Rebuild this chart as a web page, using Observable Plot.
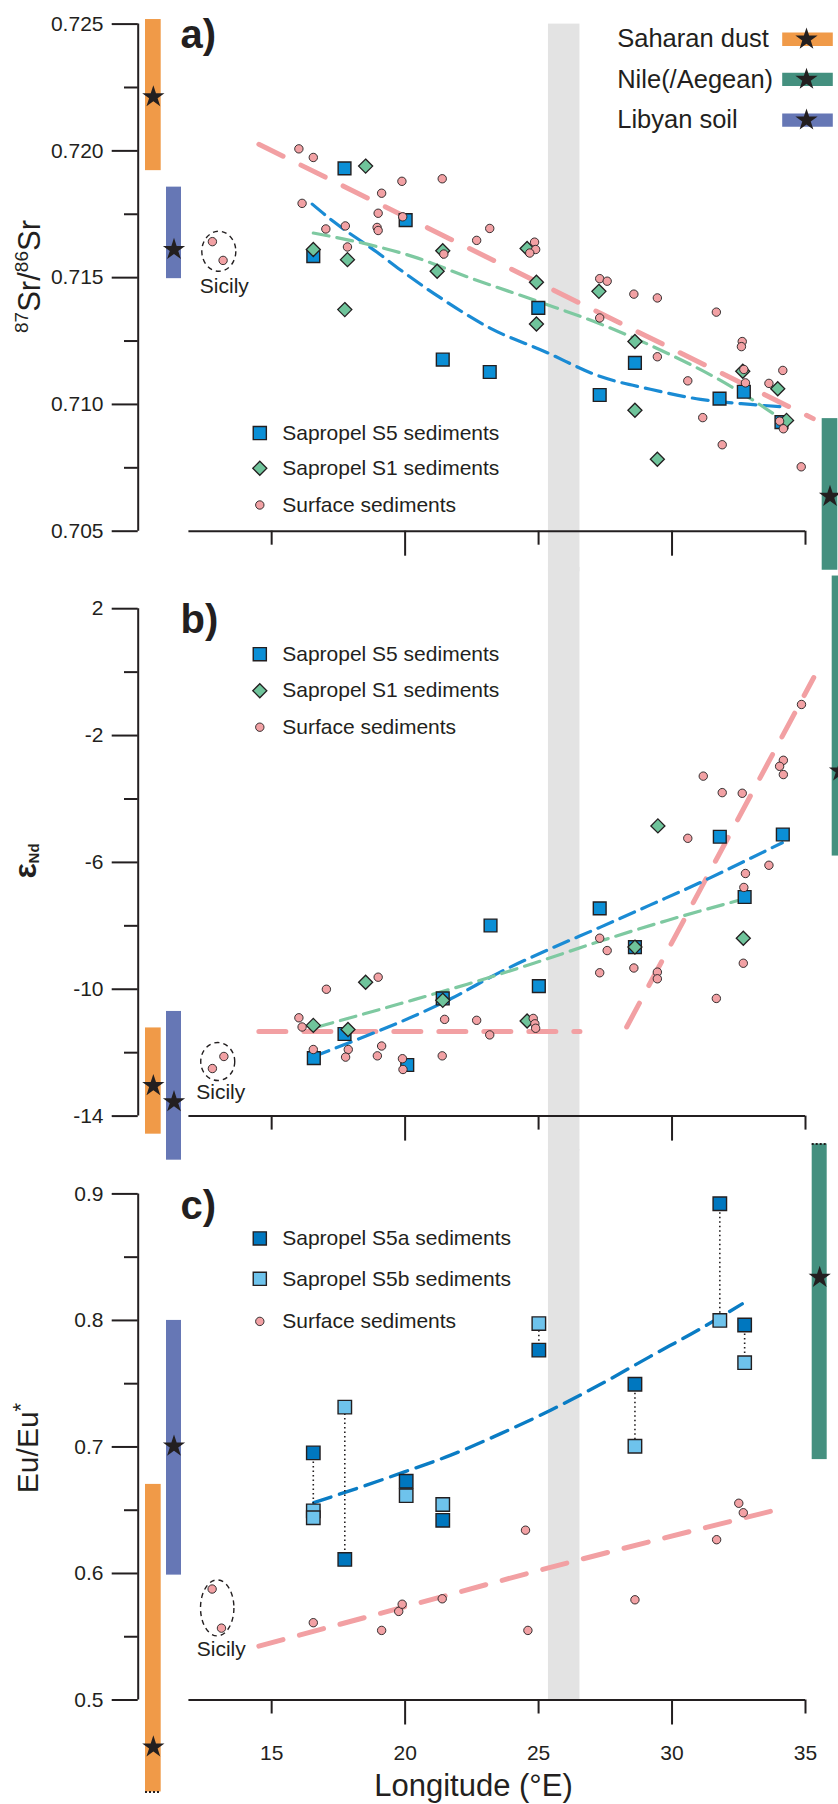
<!DOCTYPE html>
<html><head><meta charset="utf-8">
<script src="https://cdn.jsdelivr.net/npm/d3@7"></script>
<script src="https://cdn.jsdelivr.net/npm/@observablehq/plot@0.6"></script>
<style>
html,body{margin:0;padding:0;background:#fff;}
#chart{width:838px;height:1804px;position:relative;overflow:hidden;background:#fff;}
#chart svg{display:block;overflow:visible;background:transparent;}
</style></head>
<body><div id="chart"></div>
<script>
// ================= DATA =================
const lonTicks = [15, 20, 25, 30, 35];
const lonTicksLong = [20, 30];
const lonTicksShort = [15, 25, 35];
const bandLon = [[25.37, 26.55]];
const sourceNames = ["Saharan dust", "Nile(/Aegean)", "Libyan soil"];

// panel a : 87Sr/86Sr
const srTicks = [0.705, 0.710, 0.715, 0.720, 0.725];
const srMinorTicks = [0.7075, 0.7125, 0.7175, 0.7225];
const srSourceRange = [[0.71922, 0.72518], [0.70346, 0.70944], [0.71496, 0.71857]];
const srSourceStar = [0.72213, 0.70637, 0.71611];
const srS5 = [[16.56,0.71585],[17.73,0.71931],[20.02,0.71727],[21.41,0.71177],[23.17,0.71128],[24.99,0.71381],[27.29,0.71037],[28.61,0.71164],[31.78,0.71023],[32.69,0.7105],[34.10,0.7093]];
const srS1 = [[16.56,0.71611],[18.52,0.7194],[17.84,0.71571],[17.74,0.71374],[21.41,0.71606],[21.20,0.71525],[24.57,0.71615],[24.92,0.71482],[24.92,0.71317],[27.26,0.71446],[28.61,0.71248],[28.61,0.70977],[29.45,0.70784],[32.65,0.71131],[33.96,0.71062],[34.29,0.70937]];
const srSurface = [[16.02,0.72008],[16.56,0.71974],[16.14,0.71793],[17.03,0.71692],[17.76,0.71704],[17.84,0.71621],[19.12,0.71833],[18.99,0.71754],[18.95,0.71698],[18.99,0.71686],[19.88,0.7188],[19.91,0.7174],[21.39,0.7189],[21.45,0.71593],[22.68,0.71647],[23.17,0.71694],[24.85,0.7164],[24.89,0.71611],[24.67,0.71597],[27.29,0.71496],[27.57,0.71486],[27.29,0.71341],[28.57,0.71435],[29.45,0.7142],[29.45,0.71188],[30.59,0.71093],[31.15,0.70948],[31.66,0.71364],[31.88,0.70841],[32.63,0.71248],[32.60,0.71228],[32.75,0.71085],[32.69,0.71138],[33.63,0.71083],[34.15,0.71134],[34.03,0.70934],[34.17,0.70904],[34.84,0.70754]];
const srSicily = [[12.78,0.71642],[13.18,0.71568]];
const srSicilyCenter = [[13.02,0.71604]];
const srTrendSurface = [[14.52,0.72026],[35.29,0.70944]];
const srTrendS5 = [[16.52,0.7179],[17.33,0.7172],[18.95,0.7160],[19.83,0.7153],[21.33,0.7142],[23.2,0.7130],[25.2,0.7121],[27.32,0.7111],[29.19,0.7106],[31.07,0.7102],[32.94,0.7100],[34.19,0.7099]];
const srTrendS1 = [[16.56,0.71676],[18.58,0.71632],[20.33,0.71582],[22.33,0.71503],[25.07,0.71403],[27.32,0.71317],[29.82,0.71202],[31.69,0.71102],[32.94,0.71023],[34.07,0.70944]];

// panel b : eNd
const ndTicks = [-14, -10, -6, -2, 2];
const ndMinorTicks = [-12, -8, -4, 0];
const ndSourceRange = [[-14.57, -11.22], [-5.8, 3.03], [-15.39, -10.70]];
const ndSourceStar = [-13.04, -3.12, -13.55];
const ndS5 = [[16.58,-12.17],[17.73,-11.41],[20.08,-12.39],[21.41,-10.29],[23.2,-7.99],[25.01,-9.90],[27.29,-7.45],[28.61,-8.67],[31.79,-5.19],[32.72,-7.09],[34.15,-5.12]];
const ndS1 = [[16.56,-11.14],[17.86,-11.27],[18.52,-9.78],[21.41,-10.35],[24.57,-11.0],[28.61,-8.67],[29.47,-4.85],[32.67,-8.39]];
const ndSurface = [[16.02,-10.90],[16.14,-11.19],[17.05,-10.0],[18.99,-9.62],[16.56,-11.90],[17.87,-11.90],[17.77,-12.14],[19.12,-11.79],[18.96,-12.10],[19.9,-12.19],[19.92,-12.53],[21.48,-10.95],[21.39,-12.1],[22.68,-10.98],[23.17,-11.44],[24.80,-10.92],[24.86,-11.09],[24.89,-11.23],[27.29,-8.39],[27.57,-8.78],[27.29,-9.48],[28.57,-9.33],[29.45,-9.46],[29.45,-9.67],[30.59,-5.24],[31.17,-3.28],[31.88,-3.80],[31.66,-10.29],[32.63,-3.82],[32.75,-6.35],[32.69,-6.79],[32.67,-9.18],[33.63,-6.09],[34.17,-2.78],[34.03,-2.97],[34.17,-3.23],[34.85,-1.02]];
const ndSicily = [[13.21,-12.12],[12.78,-12.50]];
const ndSicilyCenter = [[12.98,-12.28]];
const ndTrendSurfaceWest = [[14.52,-11.33],[26.55,-11.33]];
const ndTrendSurfaceEast = [[28.30,-11.19],[35.31,-0.17]];
const ndTrendS5 = [[16.58,-12.12],[18.58,-11.46],[19.83,-11.03],[21.71,-10.3],[23.58,-9.45],[25.45,-8.72],[27.32,-8.04],[29.19,-7.34],[31.07,-6.63],[32.94,-5.87],[34.13,-5.38]];
const ndTrendS1 = [[16.71,-11.19],[19.83,-10.45],[22.33,-9.84],[24.82,-9.18],[27.32,-8.48],[29.82,-7.83],[32.57,-7.18]];

// panel c : Eu/Eu*
const euTicks = [0.5, 0.6, 0.7, 0.8, 0.9];
const euMinorTicks = [0.55, 0.65, 0.75, 0.85];
const euSourceRange = [[0.4273, 0.6704], [0.69, 0.9394], [0.5987, 0.80]];
const euSourceStar = [0.4628, 0.834, 0.7006];
const euS5a = [[16.56,0.6953],[17.74,0.6111],[20.04,0.6729],[21.41,0.642],[25.01,0.7765],[28.61,0.7496],[31.79,0.8922],[32.72,0.7964]];
const euS5b = [[16.56,0.6495],[16.56,0.644],[17.74,0.7315],[20.04,0.6615],[21.41,0.6545],[25.01,0.7975],[28.61,0.7006],[31.79,0.80],[32.72,0.7666]];
const euSurface = [[16.56,0.5611],[19.12,0.555],[19.76,0.570],[19.89,0.5757],[21.39,0.580],[24.51,0.6342],[24.60,0.555],[28.61,0.5792],[31.67,0.6267],[32.50,0.6555],[32.67,0.648]];
const euSicily = [[12.77,0.5877],[13.12,0.5568]];
const euSicilyCenter = [[12.96,0.5728]];
const euTrendS5 = [[16.58,0.656],[18.58,0.670],[20.0,0.6805],[21.71,0.6935],[23.58,0.7105],[25.45,0.729],[27.32,0.7495],[29.19,0.7716],[31.07,0.7935],[32.63,0.8131]];
const euTrendSurface = [[14.52,0.5426],[19.83,0.5728],[26.07,0.6083],[33.9,0.6502]];

const legendAB = ["Sapropel S5 sediments", "Sapropel S1 sediments", "Surface sediments"];
const legendC = ["Sapropel S5a sediments", "Sapropel S5b sediments", "Surface sediments"];

// ================= STYLE / LAYOUT =================
const NS = "http://www.w3.org/2000/svg";
const FONT = "'Liberation Sans', Arial, Helvetica, sans-serif";
const INK = "#231f20";
const COL = {
  saharan: "#f09a48", nile: "#44907f", libyan: "#6677b5", band: "#e3e3e3",
  s5: "#0b8fd6", s5a: "#0077bf", s5b: "#6ec3ec", s1: "#6fc49b", surf: "#f2a1a4",
  pink: "#f2a0a3", blue: "#1a8bd4", green: "#7ec9a1", blueC: "#0a7cc4"
};
const SRC_COLORS = [COL.saharan, COL.nile, COL.libyan];
const W = 838, ML = 137.7, MR = 33;
const X_DOMAIN = [10, 35];
const X_LINE_START = 11.9;
const toLon = d3.scaleLinear([ML, W - MR], X_DOMAIN);
const SRC_PX = {
  a: [[145, 160.7], [821.7, 837.3], [166, 181]],
  b: [[145, 160.7], [831.7, 847.3], [166, 181]],
  c: [[145, 160.7], [811.7, 826.7], [166, 181]]
};

const diamondSym = {draw(c, size) { const r = Math.sqrt(size / 2); c.moveTo(0, -r); c.lineTo(r, 0); c.lineTo(0, r); c.lineTo(-r, 0); c.closePath(); }};
const rectSym = (w, h) => ({draw(c) { c.rect(-w / 2, -h / 2, w, h); }});
const ellipseSym = (rx, ry) => ({draw(c) {
  const k = 0.5523;
  c.moveTo(rx, 0);
  c.bezierCurveTo(rx, k * ry, k * rx, ry, 0, ry);
  c.bezierCurveTo(-k * rx, ry, -rx, k * ry, -rx, 0);
  c.bezierCurveTo(-rx, -k * ry, -k * rx, -ry, 0, -ry);
  c.bezierCurveTo(k * rx, -ry, rx, -k * ry, rx, 0);
  c.closePath();
}});

function richText(parts, {x, y, rotate = -90}) {
  return () => {
    const t = document.createElementNS(NS, "text");
    t.setAttribute("transform", `translate(${x},${y}) rotate(${rotate})`);
    t.setAttribute("text-anchor", "middle");
    t.setAttribute("fill", INK);
    t.setAttribute("font-family", FONT);
    let shift = 0;
    for (const p of parts) {
      const s = document.createElementNS(NS, "tspan");
      s.textContent = p.text;
      s.setAttribute("font-size", p.size);
      if (p.weight) s.setAttribute("font-weight", p.weight);
      const target = p.shift || 0;
      if (target !== shift) { s.setAttribute("dy", target - shift); shift = target; }
      t.appendChild(s);
    }
    return t;
  };
}

const X = d => d[0], Y = d => d[1];

function baseMarks(p) {
  const [lo, hi] = p.yDomain;
  const rows = sourceNames.map((name, i) => ({
    name, color: SRC_COLORS[i], lo: p.srcRange[i][0], hi: p.srcRange[i][1], star: p.srcStar[i],
    x1: toLon(p.srcPx[i][0]), x2: toLon(p.srcPx[i][1])
  }));
  return [
    Plot.rect(bandLon, {x1: X, x2: Y, y1: () => p.bandTop, y2: () => p.bandBottom, fill: COL.band}),
    ...rows.map(r => Plot.rect([r], {x1: "x1", x2: "x2", y1: "lo", y2: "hi", fill: r.color})),
    ...(p.dottedEnds || []).map(([i, v]) => Plot.ruleY([rows[i]], {y: () => v, x1: "x1", x2: "x2", stroke: INK, strokeWidth: 2, strokeDasharray: "2,2"})),
    Plot.dot(rows, {x: d => (d.x1 + d.x2) / 2, y: "star", symbol: "star", r: 7, fill: INK}),
    // y axis
    Plot.ruleX([X_DOMAIN[0]], {x: d => d, y1: () => lo, y2: () => hi, stroke: INK, strokeWidth: 2}),
    Plot.axisY(p.major, {anchor: "left", tickSize: 26, tickFormat: () => "", stroke: INK, strokeWidth: 2, label: null}),
    Plot.axisY(p.minor, {anchor: "left", tickSize: 13.7, tickFormat: () => "", stroke: INK, strokeWidth: 2, label: null}),
    Plot.text(p.major, {y: d => d, text: p.fmt, frameAnchor: "left", dx: -34.7, textAnchor: "end", lineAnchor: "middle", fontSize: 21, fill: INK}),
    // x axis
    Plot.ruleY([lo], {y: d => d, x1: () => X_LINE_START, x2: () => X_DOMAIN[1], stroke: INK, strokeWidth: 2}),
    Plot.axisX(lonTicksShort, {anchor: "bottom", tickSize: 14, tickFormat: () => "", stroke: INK, strokeWidth: 2, label: null}),
    Plot.axisX(lonTicksLong, {anchor: "bottom", tickSize: 25, tickFormat: () => "", stroke: INK, strokeWidth: 2, label: null}),
    // Sicily
    Plot.dot(p.sicilyCenter, {x: X, y: Y, symbol: ellipseSym(p.ell[0], p.ell[1]), r: 1, fill: "none", stroke: INK, strokeWidth: 1.4, strokeDasharray: "5,4"}),
    Plot.text(p.sicilyCenter, {x: X, y: Y, text: () => "Sicily", dx: p.sicilyLabel[0], dy: p.sicilyLabel[1], fontSize: 21, fill: INK, lineAnchor: "middle"})
  ];
}

function legendMarks(items, rowsY, mt) {
  return items.flatMap((it, i) => [
    Plot.dot([it], {frameAnchor: "top-left", dx: 259.3 - ML, dy: rowsY[i] - mt, symbol: it.symbol, r: it.r, fill: it.fill, stroke: INK, strokeWidth: it.sw}),
    Plot.text([it], {frameAnchor: "top-left", dx: 281.7 - ML, dy: rowsY[i] - mt, text: d => d.label, textAnchor: "start", lineAnchor: "middle", fontSize: 21, fill: INK})
  ]);
}

function panelLabel(txt, baseline, mt) {
  return Plot.text([txt], {frameAnchor: "top-left", dx: 180 - ML, dy: baseline - mt, text: d => d, textAnchor: "start", lineAnchor: "bottom", fontSize: 40, fontWeight: "bold", fill: INK});
}

function makePlot(height, mt, mb, yDomain, marks) {
  return Plot.plot({
    width: W, height, marginLeft: ML, marginRight: MR, marginTop: mt, marginBottom: mb,
    x: {domain: X_DOMAIN, axis: null},
    y: {domain: yDomain, axis: null},
    style: {fontFamily: FONT, overflow: "visible", background: "transparent"},
    marks
  });
}

const sq = (data, fill, r = 7.2) => Plot.dot(data, {x: X, y: Y, symbol: "square", r, fill, stroke: INK, strokeWidth: 1.4});
const dia = (data) => Plot.dot(data, {x: X, y: Y, symbol: diamondSym, r: 5.6, fill: COL.s1, stroke: INK, strokeWidth: 1.3});
const circ = (data) => Plot.dot(data, {x: X, y: Y, r: 4.2, fill: COL.surf, stroke: INK, strokeWidth: 0.9});
const trend = (data, stroke, w, dash) => Plot.line(data, {x: X, y: Y, stroke, strokeWidth: w, strokeDasharray: dash, curve: "monotone-x"});

const chart = document.getElementById("chart");

// ---------- panel a ----------
{
  const mt = 23.6, mb = 39.3, h = 570;
  const yDomain = [0.705, 0.725];
  const p = {yDomain, srcRange: srSourceRange, srcStar: srSourceStar, srcPx: SRC_PX.a,
    bandTop: 0.725, bandBottom: 0.7034, major: srTicks, minor: srMinorTicks, fmt: d => d3.format(".3f")(d),
    sicilyCenter: srSicilyCenter, ell: [17, 20], sicilyLabel: [5.5, 34.5]};
  const topLegendY = [38.7, 78.9, 119.6];
  const topLegendBase = [46.5, 87.2, 127.2];
  const marks = [
    ...baseMarks(p),
    trend(srTrendSurface, COL.pink, 5, "27,20"),
    trend(srTrendS5, COL.blue, 3.2, "16,8"),
    trend(srTrendS1, COL.green, 3.2, "16,8"),
    sq(srS5, COL.s5), dia(srS1), circ(srSurface), circ(srSicily),
    ...legendMarks([
      {label: legendAB[0], symbol: "square", r: 7.4, fill: COL.s5, sw: 1.4},
      {label: legendAB[1], symbol: diamondSym, r: 5.6, fill: COL.s1, sw: 1.3},
      {label: legendAB[2], symbol: "circle", r: 4.2, fill: COL.surf, sw: 0.9}
    ], [432.6, 467.8, 504.5], mt),
    ...sourceNames.flatMap((name, i) => [
      Plot.dot([name], {frameAnchor: "top-left", dx: 807 - ML, dy: topLegendY[i] - mt, symbol: rectSym(50.6, 13.4), r: 1, fill: SRC_COLORS[i]}),
      Plot.dot([name], {frameAnchor: "top-left", dx: 806 - ML, dy: topLegendY[i] - mt, symbol: "star", r: 7, fill: INK}),
      Plot.text([name], {frameAnchor: "top-left", dx: 616.7 - ML, dy: topLegendBase[i] - mt, text: d => d, textAnchor: "start", lineAnchor: "bottom", fontSize: 25.5, fill: INK})
    ]),
    panelLabel("a)", 47, mt),
    richText([{text: "87", size: 19, shift: -12}, {text: "Sr", size: 31, shift: 0}, {text: "/", size: 31}, {text: "86", size: 19, shift: -12}, {text: "Sr", size: 31, shift: 0}], {x: 40, y: 276.5})
  ];
  chart.appendChild(makePlot(h, mt, mb, yDomain, marks));
}

// ---------- panel b ----------
{
  const mt = 38.2, mb = 34.4, h = 580;
  const yDomain = [-14, 2];
  const p = {yDomain, srcRange: ndSourceRange, srcStar: ndSourceStar, srcPx: SRC_PX.b,
    bandTop: 3.3, bandBottom: -15.1, major: ndTicks, minor: ndMinorTicks, fmt: d => String(d),
    sicilyCenter: ndSicilyCenter, ell: [17, 19], sicilyLabel: [3, 31]};
  const marks = [
    ...baseMarks(p),
    trend(ndTrendSurfaceWest, COL.pink, 5, "27,18"),
    trend(ndTrendSurfaceEast, COL.pink, 5, "27,20"),
    trend(ndTrendS5, COL.blue, 3.2, "16,8"),
    trend(ndTrendS1, COL.green, 3.2, "16,8"),
    sq(ndS5, COL.s5), dia(ndS1), circ(ndSurface), circ(ndSicily),
    ...legendMarks([
      {label: legendAB[0], symbol: "square", r: 7.4, fill: COL.s5, sw: 1.4},
      {label: legendAB[1], symbol: diamondSym, r: 5.6, fill: COL.s1, sw: 1.3},
      {label: legendAB[2], symbol: "circle", r: 4.2, fill: COL.surf, sw: 0.9}
    ], [83.7, 120.2, 156.7], mt),
    panelLabel("b)", 62, mt),
    richText([{text: "ε", size: 32, weight: "bold"}, {text: "Nd", size: 15, weight: "bold", shift: 3}], {x: 36, y: 291})
  ];
  chart.appendChild(makePlot(h, mt, mb, yDomain, marks));
}

// ---------- panel c ----------
{
  const mt = 43.4, mb = 104.5, h = 654;
  const yDomain = [0.5, 0.9];
  const p = {yDomain, srcRange: euSourceRange, srcStar: euSourceStar, srcPx: SRC_PX.c,
    bandTop: 0.935, bandBottom: 0.5, major: euTicks, minor: euMinorTicks, fmt: d => d3.format(".1f")(d),
    sicilyCenter: euSicilyCenter, ell: [16.7, 28], sicilyLabel: [4, 41.3],
    dottedEnds: [[0, euSourceRange[0][0]], [1, euSourceRange[1][1]]]};
  const links = euS5a.map(([x, a]) => [x, a, euS5b.find(d => d[0] === x)[1]]);
  const marks = [
    ...baseMarks(p),
    trend(euTrendSurface, COL.pink, 5, "25,17"),
    trend(euTrendS5, COL.blueC, 3.4, "18,9"),
    Plot.ruleX(links, {x: d => d[0], y1: d => d[1], y2: d => d[2], stroke: INK, strokeWidth: 1.6, strokeDasharray: "1.5,3"}),
    sq(euS5b, COL.s5b, 7.6), sq(euS5a, COL.s5a, 7.6), circ(euSurface), circ(euSicily),
    Plot.text(lonTicks, {x: d => d, text: d => String(d), frameAnchor: "bottom", dy: 59.5, lineAnchor: "bottom", fontSize: 21, fill: INK}),
    Plot.text(["Longitude (°E)"], {frameAnchor: "bottom-left", dx: 473 - ML, dy: 96, text: d => d, textAnchor: "middle", lineAnchor: "bottom", fontSize: 31, fill: INK}),
    ...legendMarks([
      {label: legendC[0], symbol: "square", r: 7.4, fill: COL.s5a, sw: 1.4},
      {label: legendC[1], symbol: "square", r: 7.4, fill: COL.s5b, sw: 1.4},
      {label: legendC[2], symbol: "circle", r: 4.2, fill: COL.surf, sw: 0.9}
    ], [87.9, 128.3, 170.9], mt),
    panelLabel("c)", 68, mt),
    richText([{text: "Eu/Eu", size: 30}, {text: "*", size: 22, shift: -10}], {x: 37.5, y: 298})
  ];
  chart.appendChild(makePlot(h, mt, mb, yDomain, marks));
}
</script>
</body></html>
